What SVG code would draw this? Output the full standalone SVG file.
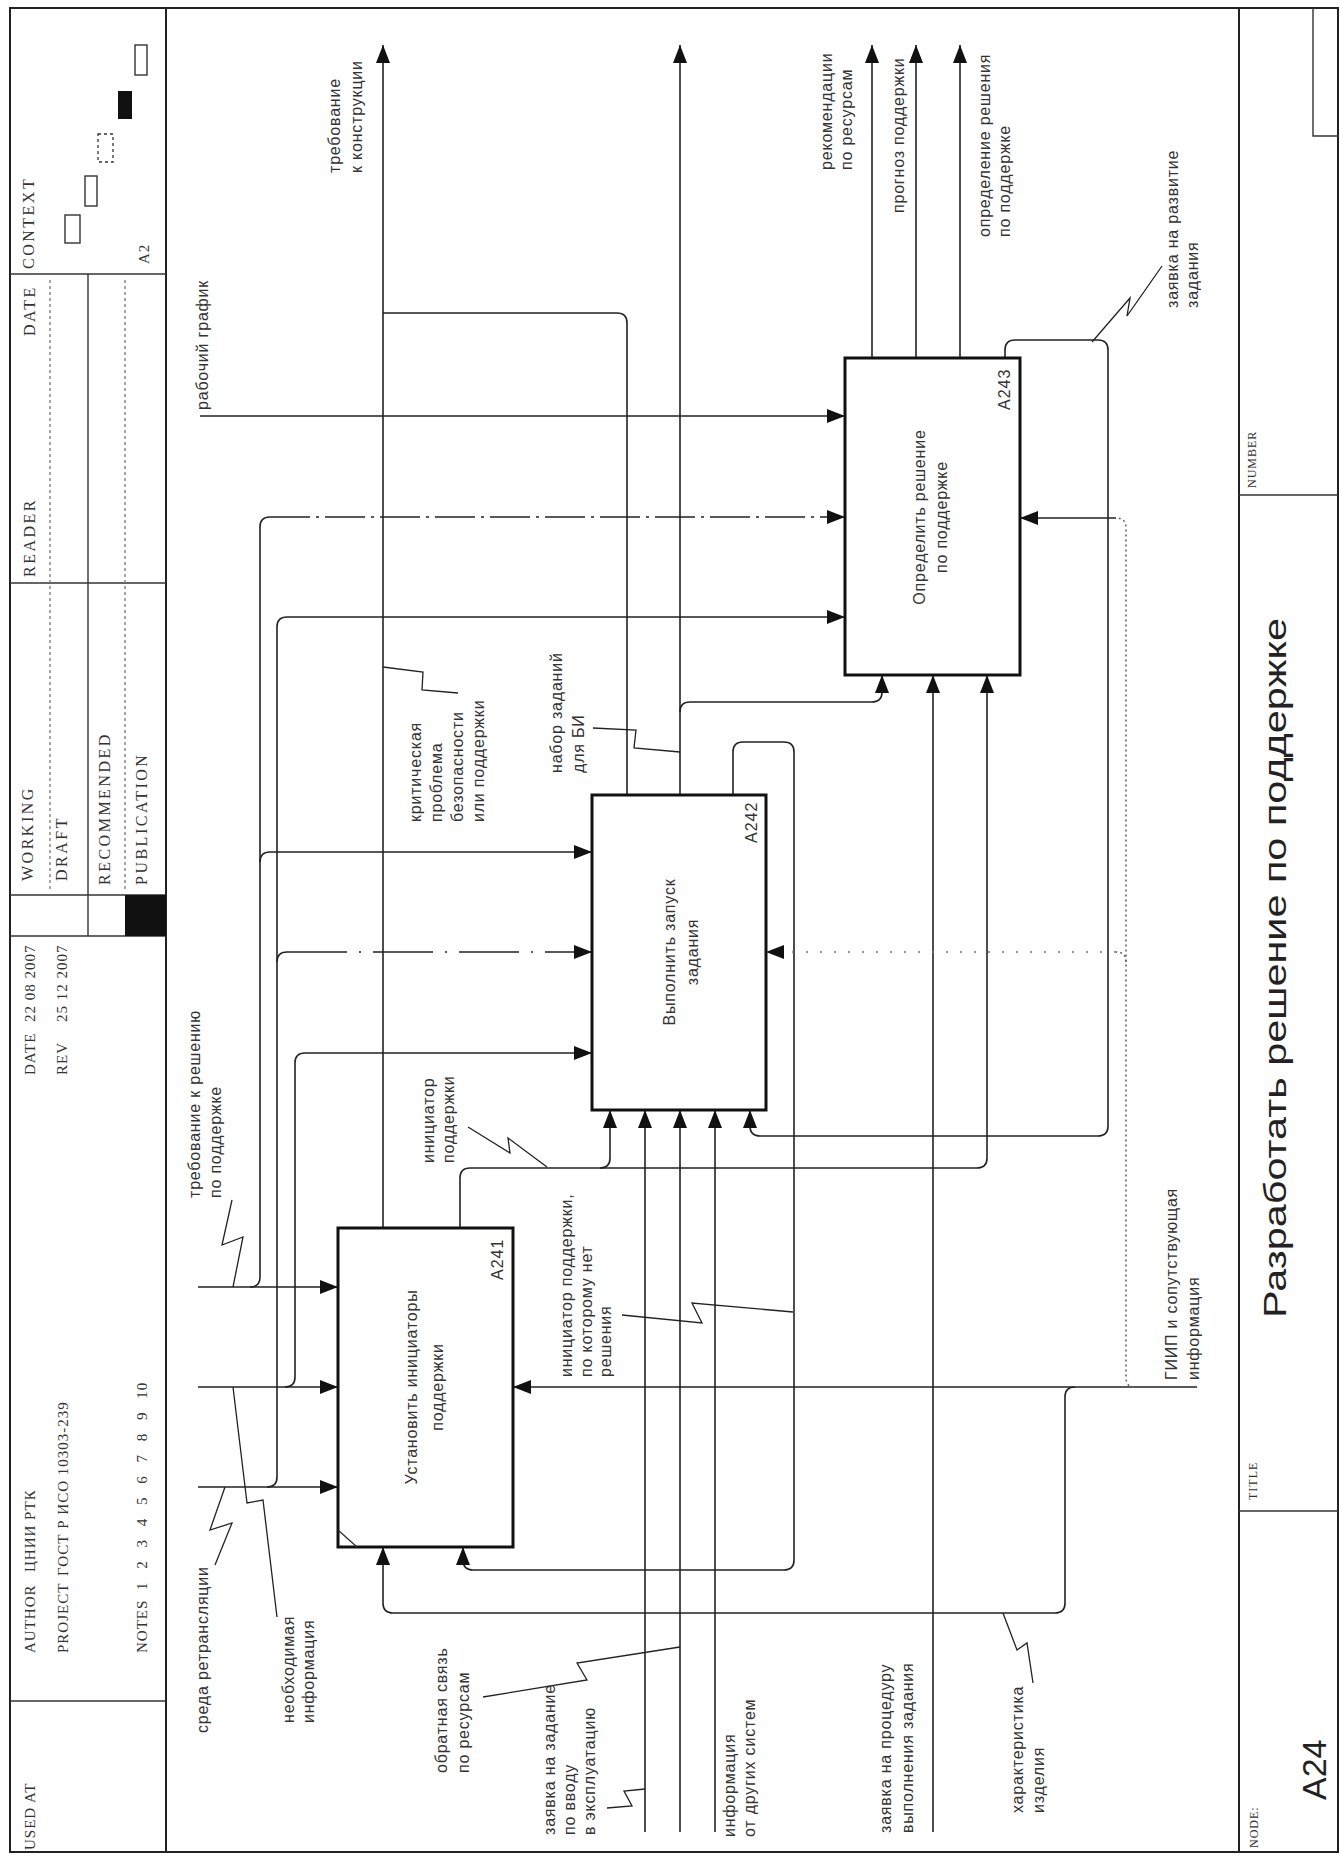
<svg xmlns="http://www.w3.org/2000/svg" width="1340" height="1858" viewBox="0 0 1340 1858">
<defs>
<marker id="ah" viewBox="0 0 18 14" refX="18" refY="7" markerWidth="18" markerHeight="14" markerUnits="userSpaceOnUse" orient="auto"><path d="M0,0 L18,7 L0,14 z" fill="#111"/></marker>
</defs>
<style>
.fr{fill:none;stroke:#222;stroke-width:2}
.thin{fill:none;stroke:#333;stroke-width:1.4}
.hd{fill:none;stroke:#777;stroke-width:1.3;stroke-dasharray:3 3}
.box{fill:#fff;stroke:#111;stroke-width:3}
.c{fill:none;stroke:#222;stroke-width:1.6}
.a{marker-end:url(#ah)}
.sq{fill:none;stroke:#222;stroke-width:1.3}
.dd{stroke-dasharray:40 6 3 6}
.ds{stroke-dasharray:60 12 2 12}
.dt{stroke:#666;stroke-dasharray:2 3}
.dt2{stroke:#777;stroke-dasharray:2 12}
.t{font-family:"Liberation Sans",Arial,sans-serif;font-size:16px;letter-spacing:0.8px;fill:#333}
.id{font-family:"Liberation Sans",Arial,sans-serif;font-size:16px;letter-spacing:1px;fill:#333}
.h{font-family:"Liberation Serif","Times New Roman",serif;font-size:16px;letter-spacing:2.5px;fill:#333}
.hv{font-family:"Liberation Serif","Times New Roman",serif;font-size:15px;letter-spacing:1px;fill:#333}
.sm{font-family:"Liberation Serif","Times New Roman",serif;font-size:12px;letter-spacing:1px;fill:#333}
</style>
<rect width="1340" height="1858" fill="#fff"/>

<g id="frame">
<rect class="fr" x="10" y="8" width="1328" height="1844"/>
<line class="fr" x1="166" y1="8" x2="166" y2="1852"/>
<line class="fr" x1="1239" y1="8" x2="1239" y2="1852"/>
<line class="thin" x1="10" y1="274" x2="166" y2="274"/>
<line class="thin" x1="10" y1="583" x2="166" y2="583"/>
<line class="thin" x1="10" y1="895" x2="166" y2="895"/>
<line class="thin" x1="10" y1="936" x2="166" y2="936"/>
<line class="thin" x1="10" y1="1701" x2="166" y2="1701"/>
<line class="thin" x1="88" y1="274" x2="88" y2="936"/>
<line class="hd" x1="50" y1="280" x2="50" y2="890"/>
<line class="hd" x1="125" y1="280" x2="125" y2="890"/>
<rect x="125" y="895" width="41" height="41" fill="#111"/>
<rect class="thin" x="65" y="215" width="15" height="28"/>
<rect class="thin" x="85" y="176" width="12" height="30"/>
<rect class="hd" x="98" y="134" width="15" height="28" style="stroke:#333"/>
<rect x="118" y="91" width="14" height="28" fill="#111"/>
<rect class="thin" x="135" y="45" width="12" height="30"/>
<line class="thin" x1="1239" y1="495" x2="1338" y2="495"/>
<line class="thin" x1="1239" y1="1511" x2="1338" y2="1511"/>
<polyline class="thin" points="1313,8 1313,136 1338,136"/>
<text class="h" transform="translate(34,269) rotate(-90)">CONTEXT</text>
<text class="hv" transform="translate(149,264) rotate(-90)">A2</text>
<text class="h" transform="translate(35,336) rotate(-90)">DATE</text>
<text class="h" transform="translate(35,577) rotate(-90)">READER</text>
<text class="h" transform="translate(33,881) rotate(-90)">WORKING</text>
<text class="h" transform="translate(67,881) rotate(-90)">DRAFT</text>
<text class="h" transform="translate(110,885) rotate(-90)">RECOMMENDED</text>
<text class="h" transform="translate(147,885) rotate(-90)">PUBLICATION</text>
<text class="hv" transform="translate(35,1075) rotate(-90)">DATE</text>
<text class="hv" transform="translate(35,1022) rotate(-90)">22 08 2007</text>
<text class="hv" transform="translate(67,1075) rotate(-90)">REV</text>
<text class="hv" transform="translate(67,1022) rotate(-90)">25 12 2007</text>
<text class="hv" transform="translate(35,1653) rotate(-90)">AUTHOR</text>
<text class="hv" transform="translate(35,1572) rotate(-90)">ЦНИИ РТК</text>
<text class="hv" transform="translate(68,1653) rotate(-90)">PROJECT</text>
<text class="hv" transform="translate(68,1576) rotate(-90)">ГОСТ Р ИСО 10303-239</text>
<text class="hv" transform="translate(147,1653) rotate(-90)">NOTES</text>
<text class="hv" transform="translate(147,1590) rotate(-90)" word-spacing="8">1 2 3 4 5 6 7 8 9 10</text>
<text class="hv" transform="translate(35,1850) rotate(-90)">USED AT</text>
<text class="sm" transform="translate(1256,488) rotate(-90)">NUMBER</text>
<text class="sm" transform="translate(1257,1500) rotate(-90)">TITLE</text>
<text class="sm" transform="translate(1258,1848) rotate(-90)">NODE:</text>
<text transform="translate(1286,968) rotate(-90)" text-anchor="middle" font-family="Liberation Sans, Arial, sans-serif" font-size="32" fill="#222" textLength="700" lengthAdjust="spacingAndGlyphs">Разработать решение по поддержке</text>
<text transform="translate(1326,1800) rotate(-90)" font-family="Liberation Sans, Arial, sans-serif" font-size="34" fill="#222">A24</text>
</g>

<g id="connectors">
<path class="c a" d="M383,1228 V45"/>
<path class="c" d="M627,795 V323 Q627,313 617,313 H383"/>
<path class="c a" d="M680,795 V45"/>
<path class="c a" d="M680,712 Q680,702 690,702 H872 Q882,702 882,692 V675"/>
<path class="c a" d="M733,795 V752 Q733,742 743,742 H784 Q794,742 794,752 V1560 Q794,1570 784,1570 H473 Q463,1570 463,1560 V1547"/>
<path class="c a" d="M872,358 V45"/>
<path class="c a" d="M916,358 V45"/>
<path class="c a" d="M960,358 V45"/>
<path class="c a" d="M1005,358 V350 Q1005,340 1015,340 H1098 Q1108,340 1108,350 V1126 Q1108,1136 1098,1136 H760 Q750,1136 750,1126 V1110"/>
<path class="c a" d="M200,416 H845"/>
<path class="c a" d="M198,1287 H338"/>
<path class="c" d="M250,1287 Q260,1287 260,1277 V527 Q260,517 270,517"/>
<path class="c a dd" d="M270,517 H845"/>
<path class="c a" d="M260,862 Q260,852 270,852 H592"/>
<path class="c a" d="M198,1387 H338"/>
<path class="c a" d="M285,1387 Q295,1387 295,1377 V1063 Q295,1053 305,1053 H592"/>
<path class="c a" d="M198,1487 H338"/>
<path class="c a" d="M267,1487 Q277,1487 277,1477 V627 Q277,617 287,617 H845"/>
<path class="c" d="M277,962 Q277,952 287,952"/>
<path class="c a ds" d="M287,952 H592"/>
<path class="c a" d="M460,1228 V1178 Q460,1168 470,1168 H977 Q987,1168 987,1158 V675"/>
<path class="c a" d="M600,1168 Q610,1168 610,1158 V1110"/>
<path class="c a" d="M645,1832 V1110"/>
<path class="c a" d="M680,1832 V1110"/>
<path class="c a" d="M715,1832 V1110"/>
<path class="c a" d="M933,1832 V675"/>
<path class="c a" d="M1197,1387 H513"/>
<path class="c a" d="M1075,1387 Q1065,1387 1065,1397 V1603 Q1065,1613 1055,1613 H393 Q383,1613 383,1603 V1547"/>
<path class="c dt" d="M1134,1387 Q1126,1387 1126,1377 V528 Q1126,518 1116,518"/>
<path class="c a" d="M1116,518 H1020"/>
<path class="c dt" d="M1126,962 Q1126,952 1116,952"/>
<path class="c a dt2" d="M1116,952 H766"/>
<polyline class="sq" points="383,667 423,672 422,690 458,693"/>
<polyline class="sq" points="593,728 636,730 634,748 680,752"/>
<polyline class="sq" points="468,1127 510,1153 508,1138 547,1167"/>
<polyline class="sq" points="232,1200 222,1245 243,1237 233,1287"/>
<polyline class="sq" points="225,1487 210,1530 232,1523 215,1565"/>
<polyline class="sq" points="233,1387 247,1503 263,1500 277,1617"/>
<polyline class="sq" points="483,1697 587,1680 577,1663 680,1647"/>
<polyline class="sq" points="607,1808 632,1806 624,1791 645,1789"/>
<polyline class="sq" points="622,1315 702,1323 692,1303 793,1312"/>
<polyline class="sq" points="1003,1613 1017,1650 1027,1643 1033,1683"/>
<polyline class="sq" points="1092,342 1130,298 1127,316 1162,266"/>
<text class="t" transform="translate(340,173) rotate(-90)"><tspan x="0" y="0">требование</tspan><tspan x="0" y="22">к конструкции</tspan></text>
<text class="t" transform="translate(208,410) rotate(-90)">рабочий график</text>
<text class="t" transform="translate(832,170) rotate(-90)"><tspan x="0" y="0">рекомендации</tspan><tspan x="0" y="20">по ресурсам</tspan></text>
<text class="t" transform="translate(904,213) rotate(-90)">прогноз поддержки</text>
<text class="t" transform="translate(990,237) rotate(-90)"><tspan x="0" y="0">определение решения</tspan><tspan x="0" y="20">по поддержке</tspan></text>
<text class="t" transform="translate(1178,308) rotate(-90)"><tspan x="0" y="0">заявка на развитие</tspan><tspan x="0" y="20">задания</tspan></text>
<text class="t" transform="translate(421,822) rotate(-90)"><tspan x="0" y="0">критическая</tspan><tspan x="0" y="21">проблема</tspan><tspan x="0" y="42">безопасности</tspan><tspan x="0" y="63">или поддержки</tspan></text>
<text class="t" transform="translate(562,773) rotate(-90)"><tspan x="0" y="0">набор заданий</tspan><tspan x="0" y="22">для БИ</tspan></text>
<text class="t" transform="translate(434,1163) rotate(-90)"><tspan x="0" y="0">инициатор</tspan><tspan x="0" y="20">поддержки</tspan></text>
<text class="t" transform="translate(200,1198) rotate(-90)"><tspan x="0" y="0">требование к решению</tspan><tspan x="0" y="21">по поддержке</tspan></text>
<text class="t" transform="translate(572,1377) rotate(-90)"><tspan x="0" y="0">инициатор поддержки,</tspan><tspan x="0" y="20">по которому нет</tspan><tspan x="0" y="39">решения</tspan></text>
<text class="t" transform="translate(208,1733) rotate(-90)">среда ретрансляции</text>
<text class="t" transform="translate(294,1723) rotate(-90)"><tspan x="0" y="0">необходимая</tspan><tspan x="0" y="20">информация</tspan></text>
<text class="t" transform="translate(447,1773) rotate(-90)"><tspan x="0" y="0">обратная связь</tspan><tspan x="0" y="22">по ресурсам</tspan></text>
<text class="t" transform="translate(555,1835) rotate(-90)"><tspan x="0" y="0">заявка на задание</tspan><tspan x="0" y="20">по вводу</tspan><tspan x="0" y="40">в эксплуатацию</tspan></text>
<text class="t" transform="translate(735,1837) rotate(-90)"><tspan x="0" y="0">информация</tspan><tspan x="0" y="20">от других систем</tspan></text>
<text class="t" transform="translate(891,1833) rotate(-90)"><tspan x="0" y="0">заявка на процедуру</tspan><tspan x="0" y="22">выполнения задания</tspan></text>
<text class="t" transform="translate(1023,1813) rotate(-90)"><tspan x="0" y="0">характеристика</tspan><tspan x="0" y="21">изделия</tspan></text>
<text class="t" transform="translate(1177,1380) rotate(-90)"><tspan x="0" y="0">ГИИП и сопутствующая</tspan><tspan x="0" y="22">информация</tspan></text>
</g>

<g id="A241">
<rect class="box" x="338" y="1228" width="175" height="319"/>
<line class="thin" x1="338" y1="1530" x2="357" y2="1547"/>
<text class="t" text-anchor="middle" transform="translate(417,1387) rotate(-90)"><tspan x="0" y="0">Установить инициаторы</tspan><tspan x="0" y="26">поддержки</tspan></text>
<text class="id" transform="translate(503,1280) rotate(-90)">A241</text>
</g>
<g id="A242">
<rect class="box" x="592" y="795" width="174" height="315"/>
<text class="t" text-anchor="middle" transform="translate(675,952) rotate(-90)"><tspan x="0" y="0">Выполнить запуск</tspan><tspan x="0" y="23">задания</tspan></text>
<text class="id" transform="translate(757,843) rotate(-90)">A242</text>
</g>
<g id="A243">
<rect class="box" x="845" y="358" width="175" height="317"/>
<text class="t" text-anchor="middle" transform="translate(925,517) rotate(-90)"><tspan x="0" y="0">Определить решение</tspan><tspan x="0" y="22">по поддержке</tspan></text>
<text class="id" transform="translate(1010,410) rotate(-90)">A243</text>
</g>
</svg>
